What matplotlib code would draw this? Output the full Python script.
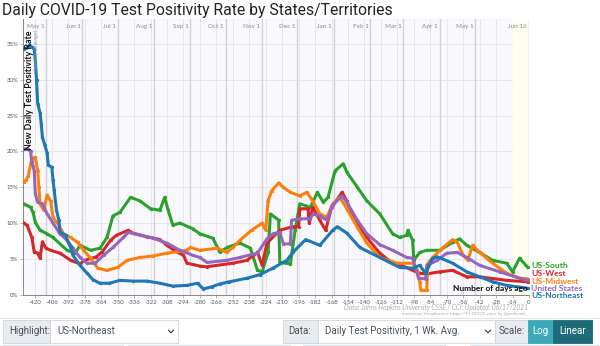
import numpy as np
import matplotlib
matplotlib.use("Agg")
import matplotlib.pyplot as plt
import matplotlib.transforms as mtransforms
from matplotlib.patches import Rectangle
from matplotlib.lines import Line2D

# Data (days ago, % positive, 1 wk avg)
south_days = [-430, -424, -422, -420, -416, -410, -405, -393, -386, -382, -373, -365, -359, -354, -348,
              -339, -331, -322, -314, -310, -307, -303, -297, -286, -280, -269, -263, -257, -246, -237,
              -231, -227, -222, -220, -213, -212, -203, -199, -195, -186, -180, -175, -171, -165, -158,
              -155, -146, -138, -127, -116, -110, -104, -103, -99, -98, -93, -87, -76, -65, -59, -53,
              -42, -31, -19, -14, -8, -1]
south_vals = [12.7, 12.2, 11.5, 10.1, 9.0, 8.5, 8.0, 6.2, 5.8, 6.9, 6.2, 6.5, 8.0, 11.0, 11.5,
              13.6, 13.1, 12.0, 11.8, 13.6, 11.8, 9.7, 10.0, 9.2, 8.5, 7.9, 5.9, 6.6, 7.2, 6.5,
              3.4, 3.2, 5.9, 11.3, 10.4, 4.5, 4.3, 9.0, 12.7, 12.2, 14.3, 12.9, 13.6, 17.3, 18.3,
              17.1, 15.0, 13.1, 11.3, 8.5, 8.0, 8.3, 9.0, 7.6, 4.8, 5.9, 6.2, 6.2, 7.3, 7.8, 6.9,
              5.9, 4.8, 4.4, 3.2, 5.1, 3.8]

west_days = [-430, -427, -423, -421, -418, -416, -414, -411, -407, -399, -390, -382, -378, -368, -363,
             -356, -351, -341, -337, -325, -314, -308, -302, -294, -291, -280, -274, -252, -240, -231,
             -227, -223, -212, -201, -196, -195, -188, -187, -184, -178, -173, -168, -159, -155, -150,
             -138, -127, -116, -110, -99, -93, -87, -76, -65, -53, -42, -19, -1]
west_vals = [10.0, 9.7, 8.0, 6.0, 5.8, 5.1, 7.4, 6.5, 6.2, 5.8, 4.8, 4.3, 4.8, 5.3, 6.0,
             7.6, 8.3, 9.0, 8.6, 8.1, 7.7, 6.9, 6.2, 5.5, 4.4, 4.0, 3.9, 4.4, 4.8, 5.9,
             4.1, 7.2, 9.0, 9.5, 9.5, 12.0, 12.0, 10.0, 12.2, 10.4, 9.0, 12.2, 14.3, 13.1, 10.8,
             8.0, 5.8, 4.4, 4.2, 3.4, 3.0, 2.9, 3.2, 3.4, 2.5, 2.5, 2.0, 1.8]

midwest_days = [-430, -428, -426, -423, -420, -418, -417, -416, -413, -410, -407, -405, -400, -396, -390,
                -384, -379, -373, -367, -359, -350, -342, -331, -320, -308, -291, -288, -280, -265, -257,
                -252, -246, -236, -227, -224, -222, -219, -213, -209, -203, -195, -189, -184, -178, -172,
                -167, -161, -155, -146, -138, -127, -112, -99, -95, -93, -92, -87, -86, -82, -73, -65,
                -61, -56, -52, -48, -42, -31, -19, -8, -1]
midwest_vals = [15.7, 16.0, 16.6, 19.0, 19.2, 17.3, 15.0, 12.7, 11.8, 13.9, 13.1, 10.8, 9.7, 8.5, 8.0,
                7.3, 6.2, 5.1, 3.7, 3.4, 3.8, 4.8, 5.2, 5.4, 5.8, 6.2, 6.6, 6.2, 6.5, 5.9,
                6.6, 7.6, 9.0, 10.0, 9.0, 13.1, 14.5, 15.6, 15.0, 14.3, 13.8, 14.3, 13.1, 11.3, 10.8,
                12.7, 13.6, 12.0, 9.4, 7.2, 5.2, 4.4, 4.4, 3.4, 1.8, 0.6, 0.6, 4.4, 5.2, 6.6, 7.7,
                7.3, 5.5, 4.8, 6.9, 5.9, 4.4, 3.0, 2.3, 2.2]

us_days = [-430, -426, -424, -423, -422, -421, -420, -418, -414, -410, -405, -399, -393, -388, -382,
           -376, -369, -362, -354, -345, -341, -331, -320, -308, -297, -286, -280, -274, -257, -246,
           -231, -223, -218, -212, -209, -203, -202, -195, -186, -184, -178, -172, -167, -159, -155,
           -146, -138, -127, -116, -104, -99, -94, -88, -87, -78, -70, -61, -53, -42, -25, -8, -1]
us_vals = [20.4, 20.3, 20.0, 18.5, 18.0, 17.3, 14.1, 12.9, 12.7, 11.3, 10.0, 8.5, 7.6, 6.5, 5.2,
           4.4, 4.4, 5.5, 6.6, 8.0, 8.7, 8.3, 7.9, 7.2, 6.2, 5.5, 5.2, 4.5, 4.8, 5.2,
           5.8, 7.8, 8.5, 8.7, 7.1, 7.1, 10.4, 10.6, 10.6, 11.3, 11.0, 10.4, 12.5, 13.8, 12.9,
           10.4, 8.5, 7.0, 6.2, 5.2, 5.1, 2.3, 2.2, 4.1, 4.8, 5.8, 5.9, 5.2, 4.1, 3.2, 2.3, 2.0]

northeast_days = [-430, -428, -425, -423, -421, -420, -419, -418, -416, -415, -414, -412, -410, -409, -406,
                  -405, -404, -402, -400, -399, -394, -393, -390, -388, -382, -376, -371, -365, -357, -348,
                  -337, -325, -314, -303, -291, -282, -277, -270, -263, -255, -240, -229, -218, -206, -201,
                  -190, -178, -167, -163, -155, -144, -127, -110, -99, -93, -88, -82, -78, -65, -53, -42,
                  -31, -19, -1]
northeast_vals = [34.3, 34.4, 34.8, 34.6, 34.3, 32.7, 30.0, 26.7, 25.4, 23.9, 22.0, 20.9, 19.8, 18.1, 17.8,
                  16.0, 14.6, 11.8, 10.4, 8.7, 8.3, 7.6, 6.6, 5.5, 4.1, 3.0, 2.1, 1.6, 1.6, 2.0,
                  1.9, 1.9, 1.6, 1.2, 1.3, 1.6, 0.8, 1.1, 1.5, 1.8, 2.3, 2.8, 3.7, 4.8, 5.9,
                  7.7, 6.9, 9.0, 9.5, 8.6, 6.6, 5.2, 3.8, 3.7, 4.1, 3.0, 5.1, 5.3, 4.4, 3.2, 2.5,
                  1.8, 1.3, 0.9]

series_names = ["US-South", "US-West", "US-Midwest", "United States", "US-Northeast"]
series_days = [south_days, west_days, midwest_days, us_days, northeast_days]
series_vals = [south_vals, west_vals, midwest_vals, us_vals, northeast_vals]
series_colors = ["#2ca02c", "#d62728", "#ff7f0e", "#9467bd", "#1f77b4"]

x_ticks = list(range(-420, 1, 14))
y_ticks = list(range(0, 36, 5))
month_starts = ["2020-05-01", "2020-06-01", "2020-07-01", "2020-08-01", "2020-09-01", "2020-10-01",
                "2020-11-01", "2020-12-01", "2021-01-01", "2021-02-01", "2021-03-01", "2021-04-01",
                "2021-05-01", "2021-06-16"]
month_labels = ["May 1", "Jun 1", "Jul 1", "Aug 1", "Sep 1", "Oct 1", "Nov 1", "Dec 1",
                "Jan 1", "Feb 1", "Mar 1", "Apr 1", "May 1", "Jun 16"]
last_day = np.datetime64("2021-06-16")

plt.rcParams["font.family"] = ["Lato", "DejaVu Sans"]

W, H = 600, 346
fig = plt.figure(figsize=(W / 100, H / 100), dpi=100)
fig.patch.set_facecolor("white")


def fx(x):
    return x / W


def fy(y):
    return 1 - y / H


ax = fig.add_axes([fx(23), fy(294.7), (529 - 23) / W, (294.7 - 19) / H])
ax.set_facecolor("#f9f9fd")
ax.set_xlim(-430.5, 0)
ax.set_ylim(0, 38.5)

# grid
for t in x_ticks:
    ax.axvline(t, color="#e6e6ec", lw=0.7, zorder=0)
for t in y_ticks[1:]:
    ax.axhline(t, color="#e6e6ee", lw=0.7, zorder=0)
ax.axvspan(-14, 0, color="#fdfdf0", zorder=0)

trans = mtransforms.blended_transform_factory(ax.transData, ax.transAxes)
for d, lab in zip(month_starts, month_labels):
    day = (np.datetime64(d) - last_day).astype(int)
    ax.axvline(day, color="#d2d2d8", lw=1.0, zorder=0.5)
    ax.text(day - 1.5, 0.972, lab, transform=trans, ha="right", va="center",
            fontsize=4.6, color="#8a8a8a")

# lines
for i, (name, d, v, c) in enumerate(zip(series_names, series_days, series_vals, series_colors)):
    ax.plot(d, v, "-o", color=c, lw=2.2, ms=2.4, mew=0, zorder=3 + i)

ax.set_xticks(x_ticks)
ax.set_xticklabels([str(t) for t in x_ticks], fontsize=4.3, color="#555555")
ax.set_yticks(y_ticks)
ax.set_yticklabels([f"{t}%" for t in y_ticks], fontsize=4.3, color="#555555")
ax.tick_params(length=2, width=0.5, color="#999999", pad=1.5)
for s in ["top", "right"]:
    ax.spines[s].set_visible(False)
for s in ["left", "bottom"]:
    ax.spines[s].set_color("#888888")
    ax.spines[s].set_linewidth(0.7)

ax.text(0.012, 0.96, "New Daily Test Positivity Rate", transform=ax.transAxes, rotation=90,
        ha="center", va="top", fontsize=6.3, fontweight="bold", color="#111111", zorder=10)
ax.text(0.027, 0.96, "(weekly average)", transform=ax.transAxes, rotation=90,
        ha="center", va="top", fontsize=4, color="#999999", zorder=10)
ax.text(-1, 0.8, "Number of days ago", ha="right", va="center", fontsize=6,
        fontweight="bold", color="#111111", zorder=10)

# right labels
label_y = [265.5, 273.5, 281, 288.5, 296]
for name, c, yp in zip(series_names, series_colors, label_y):
    fig.text(fx(531), fy(yp), name, ha="left", va="center", fontsize=6.1,
             fontweight="bold", color=c)

# title and source
fig.text(fx(2), fy(10), "Daily COVID-19 Test Positivity Rate by States/Territories",
         ha="left", va="center", fontsize=11.3, color="#222222", family=["Roboto", "DejaVu Sans"])
fig.text(fx(528), fy(307.5), "Data: Johns Hopkins University CSSE / CCI; Updated: 06/17/2021",
         ha="right", va="center", fontsize=4.8, color="#aaaaaa", style="italic")
fig.text(fx(528), fy(313.5), "Interactive Visualization: https://91-DIVOC.com/ by @profwade_",
         ha="right", va="center", fontsize=3.2, color="#aaaaaa")

# bottom controls
fig.add_artist(Line2D([0, 1], [fy(317.5), fy(317.5)], color="#e5e5e5", lw=0.8))


def box(x0, x1, y0, y1, fc, ec="#ced4da"):
    fig.add_artist(Rectangle((fx(x0), fy(y1)), fx(x1 - x0), (y1 - y0) / H,
                             facecolor=fc, edgecolor=ec, lw=0.6))


def chevron(xc, yc):
    fig.add_artist(Line2D([fx(xc - 2.5), fx(xc), fx(xc + 2.5)], [fy(yc - 1.3), fy(yc + 1.3), fy(yc - 1.3)],
                          color="#333333", lw=0.8))


ui_font = ["Roboto", "DejaVu Sans"]
box(3, 50, 320, 343, "#e9ecef")
box(50, 178, 320, 343, "white")
fig.text(fx(9), fy(331.5), "Highlight:", fontsize=7, color="#495057", va="center", family=ui_font)
fig.text(fx(57), fy(331.5), "US-Northeast", fontsize=7, color="#495057", va="center", family=ui_font)
chevron(171, 331.5)

box(283, 318, 320, 343, "#e9ecef")
box(318, 495, 320, 343, "white")
fig.text(fx(288), fy(331.5), "Data:", fontsize=7, color="#495057", va="center", family=ui_font)
fig.text(fx(325), fy(331.5), "Daily Test Positivity, 1 Wk. Avg.", fontsize=7, color="#495057",
         va="center", family=ui_font)
chevron(488, 331.5)

box(495, 528, 320, 343, "#e9ecef")
fig.text(fx(499), fy(331.5), "Scale:", fontsize=7, color="#495057", va="center", family=ui_font)
box(528, 553, 320, 343, "#3ea9b8", "#3ea9b8")
box(553, 592, 320, 343, "#1e6c7a", "#1e6c7a")
fig.text(fx(540.5), fy(331.5), "Log", fontsize=7, color="white", ha="center", va="center", family=ui_font)
fig.text(fx(572.5), fy(331.5), "Linear", fontsize=7, color="white", ha="center", va="center", family=ui_font)

for x0, x1 in [(3, 123), (128, 290), (303, 445), (470, 598)]:
    box(x0, x1, 345, 350, "white")

fig.savefig("out.png", dpi=100)
